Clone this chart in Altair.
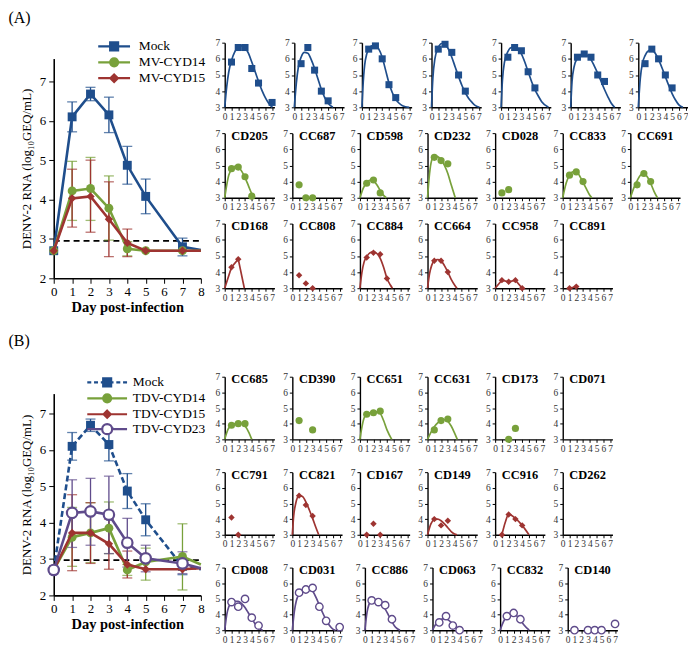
import altair as alt
import pandas as pd

FONT = "Liberation Serif"
BLUE = "#1f4e8c"
GREEN = "#78a13b"
RED = "#9e3431"
PURPLE = "#5f4b8b"

# ---------------- main panels (group means, error bars) ----------------
days = [0, 1, 2, 3, 4, 5, 7, 8]
lod_days = [0, 8]
lod_a = 2.95
lod_b = 2.97

mock_mean = [2.70, 6.10, 6.68, 6.15, 4.87, 4.08, 2.80, 2.72]
mock_lo = [None, 5.72, 6.51, 5.70, 4.39, 3.64, 2.57, None]
mock_hi = [None, 6.48, 6.85, 6.60, 5.35, 4.52, 3.02, None]

mv14_mean = [2.70, 4.22, 4.28, 3.78, 2.75, 2.70, 2.70, 2.70]
mv14_lo = [None, 3.47, 3.47, 2.97, 2.57, None, None, None]
mv14_hi = [None, 4.97, 5.07, 4.60, 2.93, None, None, None]

mv15_mean = [2.70, 4.03, 4.08, 3.50, 2.90, 2.70, 2.70, 2.70]
mv15_lo = [None, 3.30, 3.17, 2.55, 2.55, None, None, None]
mv15_hi = [None, 4.77, 5.00, 4.45, 3.25, None, None, None]

tdv14_mean = [2.70, 3.60, 3.72, 3.85, 2.70, 2.92, 3.07, 2.85]
tdv14_lo = [None, 2.80, 2.90, 3.15, 2.55, 2.42, 2.15, None]
tdv14_hi = [None, 4.42, 4.55, 4.57, 2.85, 3.30, 3.97, None]

tdv15_mean = [2.70, 3.72, 3.72, 3.42, 2.85, 2.72, 2.72, 2.75]
tdv15_lo = [None, 2.68, 2.88, 2.72, 2.48, None, None, None]
tdv15_hi = [None, 4.77, 4.55, 4.10, 3.22, None, None, None]

tdv23_mean = [2.70, 4.27, 4.31, 4.22, 3.45, 3.02, 2.88, 2.75]
tdv23_lo = [None, 3.32, 3.38, 3.15, 2.78, 2.65, 2.60, None]
tdv23_hi = [None, 5.18, 5.22, 5.28, 4.12, 3.38, 3.20, None]

a_names = ["Mock", "MV-CYD14", "MV-CYD15"]
b_names = ["Mock", "TDV-CYD14", "TDV-CYD15", "TDV-CYD23"]

# legend symbols: line + marker drawn as one custom path
a_legend_paths = [
    "M-4,0 L4,0 M-1,-1 L1,-1 L1,1 L-1,1 Z",
    "M-4,0 L4,0 M1,0 A1,1 0 1,1 -1,0 A1,1 0 1,1 1,0 Z",
    "M-4,0 L4,0 M0,-0.95 L0.95,0 L0,0.95 L-0.95,0 Z",
]
b_legend_paths = [
    "M-5,0 L-4,0 M-3.3,0 L-2.3,0 M-1.6,0 L-1,0 M1,0 L1.6,0 M2.3,0 L3.3,0 M4,0 L5,0 M-1,-1 L1,-1 L1,1 L-1,1 Z",
    "M-5,0 L5,0 M1,0 A1,1 0 1,1 -1,0 A1,1 0 1,1 1,0 Z",
    "M-5,0 L5,0 M0,-0.9 L0.9,0 L0,0.9 L-0.9,0 Z",
    "M-5,0 L-1.25,0 M1.25,0 L5,0 M1.25,0 A1.25,1.25 0 1,1 -1.25,0 A1.25,1.25 0 1,1 1.25,0 Z",
]

# ---------------- individual animals (small panels) ----------------
points = {
    "m1": ([1, 2, 3, 4, 5, 7], [5.8, 6.7, 6.7, 5.4, 4.5, 3.3]),
    "m2": ([1, 2, 3, 4, 5], [5.7, 6.7, 5.3, 4.0, 3.4]),
    "m3": ([1, 2, 3, 4, 5], [6.6, 6.8, 6.0, 4.4, 3.6]),
    "m4": ([1, 2, 3, 4, 5], [6.6, 6.9, 6.4, 5.0, 4.0]),
    "m5": ([1, 2, 3, 4, 5], [6.1, 6.7, 6.5, 5.2, 4.2]),
    "m6": ([1, 2, 3, 4, 5], [6.1, 6.3, 6.1, 5.0, 4.6]),
    "m7": ([1, 2, 3, 4, 5], [5.7, 6.6, 6.0, 5.0, 4.2]),
    "CD205": ([1, 2, 3, 4], [4.8, 4.9, 4.3, 3.1]),
    "CC687": ([1, 2, 3], [3.8, 3.0, 3.0]),
    "CD598": ([1, 2, 3], [3.9, 4.1, 3.3]),
    "CD232": ([1, 2, 3], [5.5, 5.3, 5.1]),
    "CD028": ([1, 2], [3.3, 3.5]),
    "CC833": ([1, 2, 3], [4.4, 4.6, 4.0]),
    "CC691": ([1, 2, 3], [3.8, 4.5, 4.0]),
    "CD168": ([1, 2], [4.3, 4.8]),
    "CC808": ([1, 2, 3], [3.8, 3.3, 3.0]),
    "CC884": ([1, 2, 3, 4], [4.9, 5.2, 5.1, 3.6]),
    "CC664": ([1, 2, 3], [4.7, 4.7, 4.0]),
    "CC958": ([1, 2, 3, 4], [3.5, 3.4, 3.5, 3.0]),
    "CC891": ([1, 2], [3.0, 3.1]),
    "CC685": ([1, 2, 3], [3.9, 4.0, 4.0]),
    "CD390": ([1, 3], [4.2, 3.6]),
    "CC651": ([1, 2, 3], [4.6, 4.7, 4.8]),
    "CC631": ([1, 2, 3], [3.6, 4.2, 4.3]),
    "CD173": ([2, 3], [3.0, 3.7]),
    "CD071": ([], []),
    "CC791": ([1, 2], [4.1, 3.0]),
    "CC821": ([1, 2, 3], [5.5, 4.9, 4.2]),
    "CD167": ([1, 2, 3], [3.0, 3.7, 3.0]),
    "CD149": ([1, 2, 3], [4.0, 3.6, 3.9]),
    "CC916": ([1, 2, 3, 4], [3.0, 4.3, 4.0, 3.6]),
    "CD262": ([], []),
    "CD008": ([1, 2, 3, 4, 5], [4.8, 4.5, 5.0, 3.8, 3.3]),
    "CD031": ([1, 2, 3, 4, 5, 7], [5.4, 5.6, 5.7, 4.5, 3.6, 3.2]),
    "CC886": ([1, 2, 3, 4], [4.9, 4.8, 4.6, 3.7]),
    "CD063": ([1, 2, 3, 4], [3.5, 3.9, 3.3, 3.0]),
    "CC832": ([1, 2, 3], [3.9, 4.1, 3.7]),
    "CD140": ([1, 3, 4, 5, 7], [3.0, 3.0, 3.0, 3.0, 3.4]),
}

fits = {
    "m1": ([0, 0.3, 0.6, 1, 1.5, 2, 2.5, 3, 3.5, 4, 4.5, 5, 5.5, 6, 6.5, 7.05],
           [3, 4.3, 5.2, 5.9, 6.45, 6.72, 6.8, 6.7, 6.35, 5.8, 5.2, 4.6, 4.05, 3.6, 3.25, 3.0]),
    "m2": ([0, 0.3, 0.6, 1, 1.5, 2, 2.5, 3, 3.5, 4, 4.5, 5, 5.7],
           [3, 4.5, 5.5, 6.1, 6.4, 6.35, 5.95, 5.4, 4.75, 4.1, 3.6, 3.25, 3.0]),
    "m3": ([0, 0.2, 0.5, 1, 1.5, 2, 2.5, 3, 3.5, 4, 4.5, 5, 5.5, 6, 7],
           [3, 4.6, 5.9, 6.6, 6.8, 6.8, 6.6, 6.1, 5.3, 4.5, 3.9, 3.5, 3.25, 3.1, 3.0]),
    "m4": ([0, 0.2, 0.5, 1, 1.5, 2, 2.5, 3, 3.5, 4, 4.5, 5, 5.5, 6, 6.5, 7.1],
           [3, 4.8, 6.0, 6.7, 6.95, 6.9, 6.6, 6.1, 5.5, 4.9, 4.35, 3.9, 3.55, 3.3, 3.1, 3.0]),
    "m5": ([0, 0.2, 0.5, 1, 1.5, 2, 2.5, 3, 3.5, 4, 4.5, 5, 5.5, 6, 7],
           [3, 4.7, 5.8, 6.45, 6.7, 6.72, 6.6, 6.3, 5.8, 5.2, 4.6, 4.1, 3.7, 3.35, 3.0]),
    "m6": ([0, 0.2, 0.5, 1, 1.5, 2, 2.5, 3, 3.5, 4, 4.5, 5, 5.5, 6, 6.5],
           [3, 4.6, 5.5, 6.05, 6.25, 6.3, 6.2, 5.95, 5.55, 5.1, 4.6, 4.1, 3.65, 3.25, 3.0]),
    "m7": ([0, 0.3, 0.6, 1, 1.5, 2, 2.5, 3, 3.5, 4, 4.5, 5, 5.5, 6, 6.6],
           [3, 4.8, 5.7, 6.2, 6.5, 6.55, 6.35, 5.95, 5.45, 4.9, 4.35, 3.85, 3.45, 3.15, 3.0]),
    "CD205": ([0, 0.3, 0.6, 1, 1.5, 2, 2.5, 3, 3.5, 4, 4.4],
              [3, 3.8, 4.4, 4.75, 4.95, 4.9, 4.65, 4.25, 3.75, 3.25, 3.0]),
    "CD598": ([0, 0.5, 1, 1.5, 2, 2.5, 3, 3.5, 3.9],
              [3, 3.6, 3.95, 4.1, 4.05, 3.8, 3.45, 3.15, 3.0]),
    "CD232": ([0, 0.3, 0.6, 1, 1.5, 2, 2.5, 3, 3.5, 4.1],
              [3, 4.5, 5.3, 5.6, 5.55, 5.35, 5.0, 4.5, 3.8, 3.0]),
    "CC833": ([0, 0.5, 1, 1.5, 2, 2.5, 3, 3.5, 4, 4.3],
              [3, 3.9, 4.4, 4.6, 4.6, 4.35, 3.95, 3.55, 3.15, 3.0]),
    "CC691": ([0, 0.5, 1, 1.5, 2, 2.5, 3, 3.5, 4],
              [3, 3.6, 4.05, 4.4, 4.5, 4.3, 3.9, 3.4, 3.0]),
    "CD168": ([0, 1, 2, 2.9], [3, 4.3, 4.8, 3.0]),
    "CC884": ([0, 0.3, 0.6, 1, 1.5, 2, 2.5, 3, 3.5, 4, 4.5, 4.8],
              [3, 4.0, 4.6, 4.95, 5.2, 5.25, 5.15, 4.85, 4.3, 3.6, 3.2, 3.0]),
    "CC664": ([0, 0.3, 0.6, 1, 1.5, 2, 2.5, 3, 3.5, 4, 4.35],
              [3, 3.9, 4.4, 4.7, 4.78, 4.7, 4.4, 4.0, 3.55, 3.2, 3.0]),
    "CC958": ([0, 1, 2, 3, 4], [3, 3.5, 3.4, 3.5, 3.0]),
    "CC891": ([1, 2], [3.0, 3.1]),
    "CC685": ([0, 0.5, 1, 1.5, 2, 2.5, 3, 3.5, 4],
              [3, 3.65, 3.9, 4.0, 4.02, 4.0, 3.85, 3.5, 3.0]),
    "CC651": ([0, 0.3, 0.6, 1, 1.5, 2, 2.5, 3, 3.5, 4, 4.7],
              [3, 3.8, 4.35, 4.6, 4.7, 4.75, 4.75, 4.65, 4.2, 3.6, 3.0]),
    "CC631": ([0, 0.5, 1, 1.5, 2, 2.5, 3, 3.5, 4, 4.4],
              [3, 3.45, 3.8, 4.05, 4.2, 4.25, 4.15, 3.85, 3.4, 3.0]),
    "CC821": ([0, 0.2, 0.5, 1, 1.5, 2, 2.5, 3, 3.5, 3.9],
              [3, 4.2, 5.0, 5.5, 5.45, 5.1, 4.6, 4.05, 3.45, 3.0]),
    "CD149": ([0, 0.5, 1, 1.5, 2, 2.5, 3, 3.5, 4, 4.35],
              [3, 3.7, 3.97, 4.0, 3.9, 3.7, 3.45, 3.2, 3.05, 3.0]),
    "CC916": ([1, 1.5, 2, 3, 4, 5], [3.0, 3.8, 4.3, 4.05, 3.6, 3.0]),
    "CD008": ([0, 0.3, 0.6, 1, 1.5, 2, 2.5, 3, 3.5, 4, 4.5, 5, 5.6],
              [3, 4.0, 4.5, 4.75, 4.85, 4.85, 4.7, 4.45, 4.1, 3.75, 3.4, 3.15, 3.0]),
    "CD031": ([0, 0.3, 0.6, 1, 1.5, 2, 2.5, 3, 3.5, 4, 4.5, 5, 5.5, 6, 6.4],
              [3, 4.2, 4.9, 5.3, 5.6, 5.72, 5.7, 5.5, 5.1, 4.6, 4.1, 3.65, 3.3, 3.07, 3.0]),
    "CC886": ([0, 0.3, 0.6, 1, 1.5, 2, 2.5, 3, 3.5, 4, 4.5, 5.2],
              [3, 4.1, 4.65, 4.9, 4.95, 4.85, 4.65, 4.35, 3.95, 3.55, 3.2, 3.0]),
    "CD063": ([0, 0.5, 1, 1.5, 2, 2.5, 3, 3.5, 4],
              [3, 3.4, 3.6, 3.72, 3.72, 3.6, 3.4, 3.15, 3.0]),
    "CC832": ([0, 0.5, 1, 1.5, 2, 2.5, 3, 3.5, 4.3],
              [3, 3.55, 3.9, 4.05, 4.05, 3.9, 3.65, 3.35, 3.0]),
}
straight_fits = ["CD168", "CC958", "CC891"]

a_rows = [
    [("m1", ""), ("m2", ""), ("m3", ""), ("m4", ""), ("m5", ""), ("m6", ""), ("m7", "")],
    [(n, n) for n in ["CD205", "CC687", "CD598", "CD232", "CD028", "CC833", "CC691"]],
    [(n, n) for n in ["CD168", "CC808", "CC884", "CC664", "CC958", "CC891"]],
]
b_rows = [
    [(n, n) for n in ["CC685", "CD390", "CC651", "CC631", "CD173", "CD071"]],
    [(n, n) for n in ["CC791", "CC821", "CD167", "CD149", "CC916", "CD262"]],
    [(n, n) for n in ["CD008", "CD031", "CC886", "CD063", "CC832", "CD140"]],
]
a_row_styles = [(BLUE, "square", False), (GREEN, "circle", False), (RED, "diamond", False)]
b_row_styles = [(GREEN, "circle", False), (RED, "diamond", False), (PURPLE, "circle", True)]

NOVIEW = alt.ViewBackground(stroke="transparent", strokeWidth=0)


# ---------------- builders ----------------
def spacer(h):
    return alt.Chart(pd.DataFrame({"s": pd.Series([], dtype=float)})).mark_point(opacity=0).properties(
        width=10, height=h, view=NOVIEW)


def main_panel(series, lod, names, paths, fills, strokes, height, ytop, lx, ly, sym_off, lab_off):
    xax = alt.Axis(values=list(range(9)), title="Day post-infection", titleFont=FONT,
                   titleFontSize=14.5, titleFontWeight="bold", titleColor="black", titlePadding=2,
                   labelFont=FONT, labelFontSize=13, labelColor="black", labelPadding=2,
                   tickSize=5, tickColor="black", domainColor="black", domainWidth=1.6,
                   grid=False, labelFlush=False)
    yax = alt.Axis(values=[2, 3, 4, 5, 6, 7], title="DENV-2 RNA  (log\u2081\u2080GEQ/mL)", titleFont=FONT,
                   titleFontSize=13, titleFontWeight="normal", titleColor="black", titlePadding=6,
                   labelFont=FONT, labelFontSize=13, labelColor="black", labelPadding=3,
                   tickSize=5, tickColor="black", domainColor="black", domainWidth=1.6, grid=False)
    xs = alt.Scale(domain=[0, 8], nice=False)
    ys = alt.Scale(domain=[2, ytop], nice=False)

    def X():
        return alt.X("day:Q", scale=xs, axis=xax)

    def Y(f):
        return alt.Y(f + ":Q", scale=ys, axis=yax)

    layers = []
    lod_df = pd.DataFrame({"day": lod_days, "lod": [lod] * len(lod_days)})
    layers.append(alt.Chart(lod_df).mark_line(color="black", strokeDash=[6, 4], strokeWidth=1.8)
                  .encode(x=X(), y=Y("lod")))
    for s in series:
        df = pd.DataFrame({"day": days, "mean": s["mean"], "lo": s["lo"], "hi": s["hi"]})
        base = alt.Chart(df)
        eb = base.transform_filter("isValid(datum.lo) && datum.lo !== null")
        layers.append(eb.mark_rule(color=s["color"], strokeWidth=1.3)
                      .encode(x=X(), y=Y("lo"), y2=alt.Y2("hi:Q")))
        layers.append(eb.mark_tick(orient="horizontal", size=10, thickness=1.3, color=s["color"])
                      .encode(x=X(), y=Y("lo")))
        layers.append(eb.mark_tick(orient="horizontal", size=10, thickness=1.3, color=s["color"])
                      .encode(x=X(), y=Y("hi")))
    for s in series:
        df = pd.DataFrame({"day": days, "mean": s["mean"]})
        base = alt.Chart(df)
        lkw = dict(color=s["color"], strokeWidth=2.6)
        if s.get("dash"):
            lkw["strokeDash"] = [6, 3]
        layers.append(base.mark_line(**lkw).encode(x=X(), y=Y("mean")))
        pts = base.transform_filter("datum.day <= 7")
        if s.get("hollow"):
            layers.append(pts.mark_point(shape="circle", filled=False, fill="white", stroke=s["color"],
                                         strokeWidth=2.2, size=s["size"], opacity=1)
                          .encode(x=X(), y=Y("mean")))
        else:
            layers.append(pts.mark_point(shape=s["shape"], filled=True, color=s["color"],
                                         size=s["size"], opacity=1)
                          .encode(x=X(), y=Y("mean")))
    # legend layer (no visible marks)
    leg = alt.Legend(orient="none", legendX=lx, legendY=ly, title=None, labelFont=FONT,
                     labelFontSize=13.5, labelColor="black", symbolSize=64, symbolStrokeWidth=2.2,
                     rowPadding=-6, padding=0, symbolOffset=sym_off, labelOffset=lab_off)
    leg_df = pd.DataFrame({"series": names})
    layers.append(alt.Chart(leg_df).transform_filter("datum.series == 'none'")
                  .mark_point(filled=True, opacity=1, size=64)
                  .encode(fill=alt.Fill("series:N", scale=alt.Scale(domain=names, range=fills), legend=leg),
                          stroke=alt.Stroke("series:N", scale=alt.Scale(domain=names, range=strokes), legend=leg),
                          shape=alt.Shape("series:N", scale=alt.Scale(domain=names, range=paths), legend=leg)))
    return alt.layer(*layers).properties(width=148, height=height, view=NOVIEW)


def small_panel(key, title, color, shape, hollow, w, h):
    xax = alt.Axis(values=list(range(8)), title=None, labelFont=FONT, labelFontSize=9.5,
                   labelColor="#333333", labelPadding=1, tickSize=3, tickColor="black",
                   domainColor="black", domainWidth=1.4, grid=False, labelFlush=False,
                   labelOverlap=False, labelAngle=0)
    yax = alt.Axis(values=[3, 4, 5, 6, 7], title=None, labelFont=FONT, labelFontSize=9.5,
                   labelColor="#333333", labelPadding=2, tickSize=3, tickColor="black",
                   domainColor="black", domainWidth=1.4, grid=False, labelFlush=False)
    X = alt.X("day:Q", scale=alt.Scale(domain=[0, 7.35], nice=False), axis=xax)
    Y = alt.Y("val:Q", scale=alt.Scale(domain=[3, 7], nice=False), axis=yax)
    layers = []
    if key in fits:
        fx, fy = fits[key]
        interp = "linear" if key in straight_fits else "monotone"
        layers.append(alt.Chart(pd.DataFrame({"day": fx, "val": fy}))
                      .mark_line(color=color, strokeWidth=1.7, interpolate=interp)
                      .encode(x=X, y=Y))
    px, py = points[key]
    pdf = pd.DataFrame({"day": pd.Series(px, dtype=float), "val": pd.Series(py, dtype=float)})
    if hollow:
        layers.append(alt.Chart(pdf).mark_point(shape="circle", filled=False, fill="white", stroke=color,
                                                strokeWidth=1.4, size=55, opacity=1).encode(x=X, y=Y))
    else:
        sz = {"square": 50, "circle": 52, "diamond": 42}[shape]
        layers.append(alt.Chart(pdf).mark_point(shape=shape, filled=True, color=color, size=sz, opacity=1)
                      .encode(x=X, y=Y))
    ch = alt.layer(*layers).properties(width=w, height=h, view=NOVIEW)
    if title:
        ch = ch.properties(title=alt.Title(title, font=FONT, fontSize=12.5, fontWeight="bold",
                                           color="black", offset=0, dy=14, anchor="middle"))
    return ch


def grid(rows, styles, w, h, hsp, vsp):
    out = []
    for row, (c, sh, hol) in zip(rows, styles):
        out.append(alt.hconcat(*[small_panel(k, t, c, sh, hol, w, h) for k, t in row], spacing=hsp))
    return alt.vconcat(*out, spacing=vsp)


def panel_label(txt):
    return alt.Title(txt, anchor="start", font=FONT, fontSize=16, fontWeight="normal",
                     color="black", offset=2, dx=-12)


series_a = [
    dict(mean=mock_mean, lo=mock_lo, hi=mock_hi, color=BLUE, shape="square", size=80),
    dict(mean=mv14_mean, lo=mv14_lo, hi=mv14_hi, color=GREEN, shape="circle", size=80),
    dict(mean=mv15_mean, lo=mv15_lo, hi=mv15_hi, color=RED, shape="diamond", size=70),
]
series_b = [
    dict(mean=mock_mean, lo=mock_lo, hi=mock_hi, color=BLUE, shape="square", size=80, dash=True),
    dict(mean=tdv14_mean, lo=tdv14_lo, hi=tdv14_hi, color=GREEN, shape="circle", size=80),
    dict(mean=tdv15_mean, lo=tdv15_lo, hi=tdv15_hi, color=RED, shape="diamond", size=70),
    dict(mean=tdv23_mean, lo=tdv23_lo, hi=tdv23_hi, color=PURPLE, shape="circle", size=110, hollow=True),
]

main_a = main_panel(series_a, lod_a, a_names, a_legend_paths, [BLUE, GREEN, RED], [BLUE, GREEN, RED],
                    221, 7.58, 43, -19, 11, 18)
main_b = main_panel(series_b, lod_b, b_names, b_legend_paths, [BLUE, GREEN, RED, "white"],
                    [BLUE, GREEN, RED, PURPLE], 203, 7.55, 31, -18, 16, 19)

grid_a = grid(a_rows, a_row_styles, 50, 65, 8, 7)
grid_b = grid(b_rows, b_row_styles, 50, 63, 8, 14)

res = dict(shape="independent", fill="independent", stroke="independent")
col_main_a = alt.vconcat(spacer(12), main_a, spacing=0, title=panel_label("(A)")).resolve_scale(**res)
col_grid_a = alt.vconcat(spacer(10), grid_a, spacing=0)
col_main_b = alt.vconcat(spacer(25), main_b, spacing=0, title=panel_label("(B)")).resolve_scale(**res)
col_grid_b = alt.vconcat(spacer(21), grid_b, spacing=0)

row_a = alt.hconcat(col_main_a, col_grid_a, spacing=8).resolve_scale(**res)
row_b = alt.hconcat(col_main_b, col_grid_b, spacing=8).resolve_scale(**res)

chart = (alt.vconcat(row_a, row_b, spacing=19)
         .resolve_scale(**res)
         .properties(padding=0)
         .configure_view(stroke=None, strokeWidth=0)
         .configure(background="white"))

chart.save("out.html", embed_options={"renderer": "svg", "actions": False})
